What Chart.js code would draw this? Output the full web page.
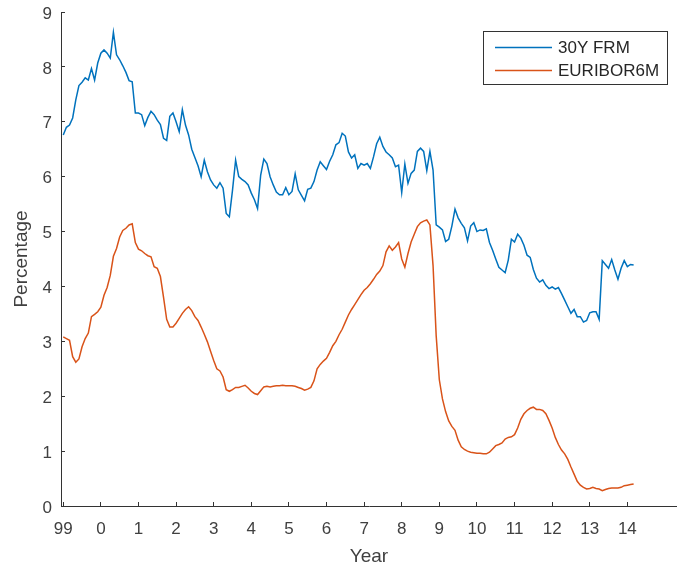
<!DOCTYPE html>
<html>
<head>
<meta charset="utf-8">
<script src="https://cdn.jsdelivr.net/npm/chart.js@4/dist/chart.umd.min.js"></script>
<style>
  html, body { margin: 0; padding: 0; background: #ffffff; }
  #wrap { width: 677px; height: 569px; }
</style>
</head>
<body>
<div id="wrap"><canvas id="chart" width="677" height="569"></canvas></div>
<script>
// Monthly series, starting January 1999
const startYear = 1999;

const frmRates = [
  6.76, 6.90, 6.94, 7.07, 7.40, 7.66, 7.72, 7.80, 7.76, 7.97,
  7.76, 8.07, 8.25, 8.31, 8.25, 8.16, 8.63, 8.22, 8.13, 8.02,
  7.90, 7.75, 7.73, 7.16, 7.16, 7.13, 6.93, 7.08, 7.19, 7.13,
  7.03, 6.95, 6.70, 6.66, 7.10, 7.16, 7.00, 6.82, 7.22, 6.94,
  6.76, 6.50, 6.35, 6.20, 6.00, 6.30, 6.09, 5.94, 5.85, 5.79,
  5.89, 5.79, 5.33, 5.27, 5.75, 6.30, 6.00, 5.95, 5.91, 5.85,
  5.70, 5.58, 5.42, 6.03, 6.32, 6.24, 6.00, 5.85, 5.72, 5.67,
  5.67, 5.80, 5.67, 5.73, 6.05, 5.76, 5.66, 5.56, 5.77, 5.79,
  5.91, 6.12, 6.27, 6.20, 6.13, 6.28, 6.40, 6.58, 6.62, 6.79,
  6.74, 6.45, 6.34, 6.40, 6.15, 6.24, 6.21, 6.24, 6.15, 6.36,
  6.60, 6.72, 6.55, 6.45, 6.40, 6.34, 6.18, 6.21, 5.71, 6.23,
  5.88, 6.06, 6.12, 6.46, 6.52, 6.46, 6.11, 6.46, 6.12, 5.12,
  5.08, 5.03, 4.82, 4.86, 5.10, 5.41, 5.25, 5.15, 5.07, 4.83,
  5.10, 5.16, 5.00, 5.03, 5.02, 5.05, 4.80, 4.66, 4.50, 4.35,
  4.30, 4.25, 4.48, 4.86, 4.81, 4.95, 4.88, 4.75, 4.57, 4.53,
  4.31, 4.15, 4.08, 4.12, 4.02, 3.96, 3.99, 3.95, 3.98, 3.87,
  3.75, 3.63, 3.51, 3.58, 3.45, 3.45, 3.35, 3.38, 3.52, 3.54,
  3.54, 3.40, 4.47, 4.40, 4.33, 4.49, 4.30, 4.13, 4.33, 4.47,
  4.36, 4.40, 4.39
];

const euriborRates = [
  3.08, 3.05, 3.02, 2.72, 2.62, 2.68, 2.90, 3.05, 3.15, 3.45,
  3.49, 3.54, 3.62, 3.84, 3.98, 4.20, 4.55, 4.69, 4.90, 5.02,
  5.06, 5.12, 5.14, 4.80, 4.68, 4.65, 4.60, 4.56, 4.54, 4.36,
  4.33, 4.18, 3.80, 3.40, 3.26, 3.26, 3.33, 3.42, 3.51, 3.58,
  3.63, 3.56, 3.45, 3.38, 3.26, 3.13, 2.99, 2.82, 2.65, 2.50,
  2.46, 2.35, 2.12, 2.09, 2.12, 2.16, 2.16, 2.18, 2.20, 2.15,
  2.09, 2.05, 2.03, 2.10, 2.17, 2.18, 2.17, 2.18, 2.19, 2.19,
  2.20, 2.19, 2.19, 2.19, 2.18, 2.16, 2.14, 2.11, 2.13, 2.16,
  2.28, 2.50, 2.58, 2.64, 2.69, 2.80, 2.92, 3.00, 3.12, 3.22,
  3.35, 3.48, 3.58, 3.67, 3.76, 3.85, 3.93, 3.98, 4.05, 4.13,
  4.22, 4.28, 4.38, 4.63, 4.74, 4.66, 4.72, 4.80, 4.50, 4.35,
  4.60, 4.81, 4.95, 5.09, 5.16, 5.19, 5.21, 5.12, 4.38, 3.10,
  2.30, 1.95, 1.72, 1.55, 1.45, 1.38, 1.20, 1.08, 1.03, 1.00,
  0.98, 0.97, 0.96, 0.96, 0.95, 0.95, 0.98, 1.04, 1.10, 1.12,
  1.15, 1.22, 1.25, 1.26, 1.30, 1.42, 1.58, 1.68, 1.74, 1.78,
  1.80, 1.76, 1.76, 1.74, 1.68, 1.56, 1.42, 1.25, 1.12, 1.02,
  0.95, 0.85, 0.71, 0.58, 0.45, 0.38, 0.34, 0.31, 0.32, 0.34,
  0.32, 0.31, 0.28, 0.30, 0.32, 0.33, 0.33, 0.33, 0.34, 0.37,
  0.38, 0.39, 0.40
];

const tickYears  = [1999, 2000, 2001, 2002, 2003, 2004, 2005, 2006, 2007, 2008, 2009, 2010, 2011, 2012, 2013, 2014];
const tickLabels = ['99', '0', '1', '2', '3', '4', '5', '6', '7', '8', '9', '10', '11', '12', '13', '14'];
const seriesNames = ['30Y FRM', 'EURIBOR6M'];

const toPoints = arr => arr.map((v, i) => ({ x: startYear + i / 12, y: v }));

const AXIS = '#333333';
const TEXT = '#404040';
const FONT = '"Liberation Sans", Arial, Helvetica, sans-serif';

// Boxed legend in the upper-right corner of the plot area
const boxLegend = {
  id: 'boxLegend',
  afterDraw(chart) {
    const { ctx, chartArea } = chart;
    const w = 184, h = 53;
    const x0 = chartArea.right - 10 - w;
    const y0 = chartArea.top + 19;
    ctx.save();
    ctx.fillStyle = '#ffffff';
    ctx.fillRect(x0, y0, w, h);
    ctx.strokeStyle = AXIS;
    ctx.lineWidth = 1;
    ctx.strokeRect(Math.round(x0) + 0.5, Math.round(y0) + 0.5, w, h);
    ctx.font = '17px ' + FONT;
    ctx.textBaseline = 'middle';
    ctx.textAlign = 'left';
    chart.data.datasets.forEach((ds, i) => {
      const yy = y0 + 16.5 + i * 23;
      ctx.strokeStyle = ds.borderColor;
      ctx.lineWidth = 1.5;
      ctx.beginPath();
      ctx.moveTo(x0 + 12, yy);
      ctx.lineTo(x0 + 69, yy);
      ctx.stroke();
      ctx.fillStyle = '#262626';
      ctx.fillText(ds.label, x0 + 75, yy + 1);
    });
    ctx.restore();
  }
};

new Chart(document.getElementById('chart'), {
  type: 'line',
  data: {
    datasets: [
      {
        label: seriesNames[0],
        data: toPoints(frmRates),
        borderColor: '#0072BD',
        borderWidth: 1.5,
        pointRadius: 0,
        tension: 0,
        fill: false
      },
      {
        label: seriesNames[1],
        data: toPoints(euriborRates),
        borderColor: '#D95319',
        borderWidth: 1.5,
        pointRadius: 0,
        tension: 0,
        fill: false
      }
    ]
  },
  options: {
    responsive: false,
    animation: false,
    devicePixelRatio: 1,
    layout: { padding: { top: 12, right: 0, left: 0, bottom: 0 } },
    plugins: {
      legend: { display: false },
      tooltip: { enabled: false }
    },
    scales: {
      x: {
        type: 'linear',
        min: 1998.94,
        max: 2015.32,
        afterFit: s => { s.height = 63; s.paddingLeft = 0; s.paddingRight = 0; },
        afterBuildTicks: s => { s.ticks = tickYears.map(v => ({ value: v })); },
        grid: {
          display: true,
          drawOnChartArea: false,
          drawTicks: true,
          tickLength: -4,
          color: AXIS,
          lineWidth: 1
        },
        border: { display: true, color: AXIS, width: 1 },
        ticks: {
          autoSkip: false,
          maxRotation: 0,
          padding: 17,
          color: TEXT,
          font: { family: FONT, size: 17 },
          callback: v => tickLabels[tickYears.indexOf(v)]
        },
        title: {
          display: true,
          text: 'Year',
          color: TEXT,
          font: { family: FONT, size: 19 },
          padding: { top: 0, bottom: 1 }
        }
      },
      y: {
        type: 'linear',
        min: 0,
        max: 9,
        afterFit: s => { s.width = 61; s.paddingTop = 0; s.paddingBottom = 0; },
        grid: {
          display: true,
          drawOnChartArea: false,
          drawTicks: true,
          tickLength: -4,
          color: AXIS,
          lineWidth: 1
        },
        border: { display: true, color: AXIS, width: 1 },
        ticks: {
          stepSize: 1,
          padding: 13,
          labelOffset: 2,
          color: TEXT,
          font: { family: FONT, size: 17 }
        },
        title: {
          display: true,
          text: 'Percentage',
          color: TEXT,
          font: { family: FONT, size: 19 },
          padding: { top: 10, bottom: 0 }
        }
      }
    }
  },
  plugins: [boxLegend]
});
</script>
</body>
</html>
